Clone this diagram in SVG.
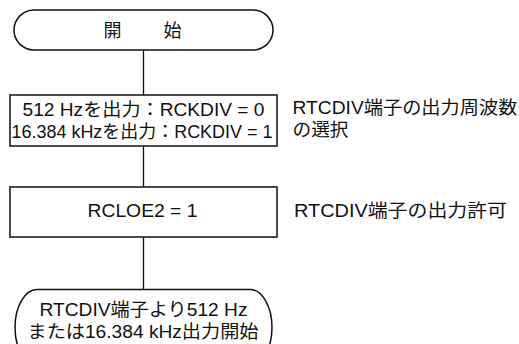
<svg xmlns="http://www.w3.org/2000/svg" width="519" height="344" viewBox="0 0 519 344">
<style>
.t{font-family:"Liberation Sans","Noto Sans CJK JP",sans-serif;font-size:18px;fill:#111}
.s{fill:#fff;stroke:#111;stroke-width:1.5}
.c{stroke:#111;stroke-width:1.3;fill:none}
</style>
<rect width="519" height="344" fill="#fff"/>
<g id="connectors">
<line class="c" x1="143.5" y1="50" x2="143.5" y2="95"/>
<line class="c" x1="143.5" y1="146" x2="143.5" y2="187"/>
<line class="c" x1="143.5" y1="237" x2="143.5" y2="289.5"/>
</g>
<g id="start">
<rect class="s" x="14" y="10" width="259" height="40" rx="20" ry="20"/>
<text class="t" x="112.5" y="37" text-anchor="middle">開<tspan x="172.5">始</tspan></text>
</g>
<g id="select">
<rect class="s" x="10" y="95" width="267" height="51"/>
<text class="t" x="22.5" y="115.5" textLength="242" lengthAdjust="spacingAndGlyphs">512 Hzを出力：RCKDIV = 0</text>
<text class="t" x="11.5" y="137.5" textLength="261" lengthAdjust="spacingAndGlyphs">16.384 kHzを出力：RCKDIV = 1</text>
</g>
<g id="note-select">
<text class="t" x="292.5" y="114" textLength="225" lengthAdjust="spacingAndGlyphs">RTCDIV端子の出力周波数</text>
<text class="t" x="292.5" y="136" textLength="56" lengthAdjust="spacingAndGlyphs">の選択</text>
</g>
<g id="enable">
<rect class="s" x="10" y="187" width="267" height="50"/>
<text class="t" x="87.5" y="217" textLength="110" lengthAdjust="spacingAndGlyphs">RCLOE2 = 1</text>
</g>
<g id="note-enable">
<text class="t" x="294" y="217" textLength="213" lengthAdjust="spacingAndGlyphs">RTCDIV端子の出力許可</text>
</g>
<g id="end">
<rect class="s" x="15" y="289.5" width="257" height="76" rx="22" ry="38"/>
<text class="t" x="39.5" y="316" textLength="208" lengthAdjust="spacingAndGlyphs">RTCDIV端子より512 Hz</text>
<text class="t" x="27.5" y="338" textLength="231" lengthAdjust="spacingAndGlyphs">または16.384 kHz出力開始</text>
</g>
</svg>
